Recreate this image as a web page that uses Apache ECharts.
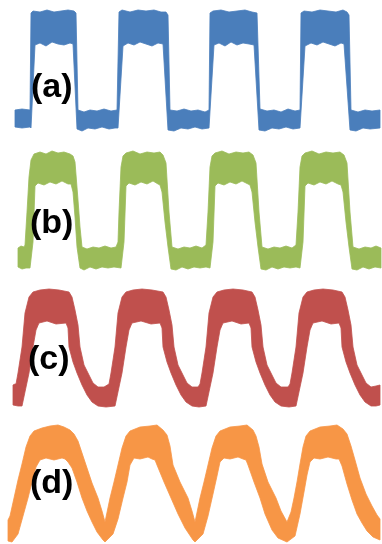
<!DOCTYPE html>
<html>
<head>
<meta charset="utf-8">
<script src="https://cdn.jsdelivr.net/npm/echarts@6/dist/echarts.min.js"></script>
<style>
html,body{margin:0;padding:0;background:#fff;}
#chart{width:382px;height:544px;}
</style>
</head>
<body>
<div id="chart"></div>
<script>
// Panel labels
const labels = ['(a)', '(b)', '(c)', '(d)'];
const colors = ['#4A7EBB', '#9BBB59', '#C0504D', '#F79646'];

// Envelope data: [time (a.u.), amplitude (a.u.)]
const aUpper = [[15,24],[22,25],[30,24],[31,121],[33,123],[40,122],[47,124],[54,122],[61,123],[68,124],[74,123],[76,121],[78,24],[84,22],[90,24],[97,23],[104,25],[111,23],[117,24],[119,122],[122,124],[130,122],[138,124],[146,123],[154,124],[161,122],[166,122],[168,119],[170,24],[177,23],[184,25],[191,23],[198,24],[205,22],[209,24],[210,121],[213,123],[221,124],[229,122],[237,123],[245,124],[252,122],[257,121],[260,25],[267,23],[274,24],[281,22],[288,25],[295,23],[300,24],[301,121],[304,123],[312,122],[320,124],[328,123],[336,122],[343,124],[347,122],[349,119],[351,24],[358,22],[365,24],[372,23],[380,24]];
const aLower = [[15,7],[22,6],[30,7],[31,6],[35,89],[40,91],[46,88],[52,92],[58,90],[64,89],[70,91],[73,90],[77,5],[82,3],[88,6],[95,5],[102,7],[109,5],[115,6],[118,6],[123,88],[128,91],[134,89],[140,92],[146,90],[152,88],[158,91],[163,90],[168,4],[174,3],[181,6],[188,5],[195,7],[202,5],[209,6],[214,89],[219,91],[225,88],[231,92],[237,89],[243,91],[249,90],[254,89],[259,4],[265,3],[272,6],[279,5],[286,7],[293,5],[300,6],[305,88],[311,91],[317,89],[323,92],[329,90],[335,88],[341,91],[344,90],[350,4],[356,3],[363,6],[370,5],[380,6]];

const bUpper = [[18,24],[21,26],[24,25],[25,27],[27,60],[29,95],[31,112],[34,118],[40,120],[46,118],[52,121],[58,119],[64,120],[70,118],[73,116],[75,110],[78,72],[80,45],[82,25],[87,23],[93,25],[99,24],[105,26],[111,24],[116,25],[118,30],[119,60],[121,105],[123,116],[126,119],[133,121],[140,118],[147,120],[154,119],[160,120],[163,117],[166,109],[169,60],[172,25],[178,23],[184,25],[190,24],[196,26],[202,24],[206,27],[208,60],[210,105],[212,116],[215,119],[222,121],[229,118],[236,120],[243,119],[249,120],[253,117],[256,109],[259,60],[262,25],[268,23],[274,25],[280,24],[286,26],[292,24],[296,27],[298,60],[300,105],[302,116],[305,119],[312,121],[319,118],[326,120],[333,119],[340,120],[344,117],[347,109],[350,60],[353,25],[359,23],[365,25],[371,24],[376,26],[381,24]];
const bLower = [[18,5],[22,3],[26,4],[30,4],[33,30],[35,86],[38,89],[44,87],[50,90],[56,88],[62,91],[68,88],[71,88],[73,80],[75,55],[77,25],[80,4],[84,2],[90,5],[96,3],[102,5],[108,4],[114,5],[121,4],[124,30],[126,86],[129,89],[135,87],[141,90],[147,88],[153,91],[158,88],[160,87],[162,80],[165,50],[168,25],[171,3],[176,2],[182,5],[188,3],[194,5],[200,4],[206,5],[210,4],[213,30],[215,86],[218,89],[224,87],[230,90],[236,88],[242,91],[248,88],[250,87],[252,80],[255,50],[258,25],[261,3],[266,2],[272,5],[278,3],[284,5],[290,4],[296,5],[300,4],[303,30],[305,86],[308,89],[314,87],[320,90],[326,88],[332,91],[338,88],[341,87],[343,80],[346,50],[349,25],[352,3],[357,2],[363,5],[369,3],[375,5],[381,4]];

const cUpper = [[13,25],[15,26],[16,26],[18,37],[22,63],[25,97],[29,113],[33,118],[40,120],[49,121],[59,120],[69,118],[72,113],[75,100],[78,85],[80,63],[84,45],[88,37],[93,27],[98,23],[104,23],[109,26],[111,37],[115,63],[118,97],[122,113],[126,118],[133,120],[142,121],[152,120],[163,118],[166,113],[169,100],[172,85],[174,63],[178,45],[182,37],[187,27],[192,23],[198,23],[200,26],[202,37],[206,63],[209,97],[213,113],[217,118],[224,120],[233,121],[243,120],[252,118],[255,113],[258,100],[261,85],[263,63],[267,45],[271,37],[276,27],[281,23],[288,23],[290,26],[292,37],[296,63],[299,97],[303,113],[307,118],[314,120],[323,121],[333,120],[342,118],[345,113],[348,100],[351,85],[353,63],[357,45],[361,37],[366,27],[371,23],[376,24],[380,25]];
const cLower = [[13,5],[18,4],[22,4],[29,37],[33,63],[36,80],[39,87],[47,89],[56,86],[66,87],[68,82],[69,63],[73,48],[77,37],[82,25],[87,15],[92,8],[98,4],[106,3],[115,4],[122,37],[126,63],[129,80],[132,87],[141,89],[151,86],[160,87],[162,82],[163,63],[167,48],[171,37],[176,25],[181,15],[186,8],[192,4],[199,3],[206,4],[213,37],[217,63],[220,80],[223,87],[232,89],[241,86],[249,87],[251,82],[252,63],[256,48],[260,37],[265,25],[270,15],[275,8],[281,4],[289,3],[296,4],[303,37],[307,63],[310,80],[313,87],[322,89],[331,86],[339,87],[341,82],[342,63],[346,48],[350,37],[355,25],[360,15],[365,8],[371,4],[376,4],[380,5]];

const dUpper = [[8,24],[10,28],[14,46],[18,64],[22,80],[26,97],[30,108],[34,113],[42,116],[50,118],[58,119],[64,117],[70,114],[74,110],[78,103],[82,91],[86,79],[92,61],[98,46],[102,33],[105,22],[110,46],[114,62],[118,79],[122,96],[126,108],[130,113],[140,117],[150,118],[157,119],[163,114],[167,109],[170,98],[173,79],[180,62],[188,46],[192,33],[195,22],[200,46],[204,62],[208,79],[212,96],[216,108],[220,113],[230,117],[240,118],[247,119],[253,114],[256,108],[259,97],[262,80],[268,62],[276,46],[281,33],[287,22],[291,32],[294,46],[297,62],[300,80],[303,97],[306,108],[310,113],[320,117],[330,118],[337,119],[343,115],[347,110],[351,98],[355,84],[360,66],[366,50],[372,38],[377,29],[380,25]];
const dLower = [[8,3],[12,2],[18,10],[23,28],[28,46],[32,62],[36,77],[40,84],[46,86],[54,84],[62,86],[65,85],[68,82],[72,76],[77,62],[82,46],[87,33],[92,22],[97,12],[103,4],[105,2],[113,10],[118,25],[123,46],[127,62],[130,79],[134,86],[140,85],[148,87],[152,85],[155,84],[157,79],[164,62],[171,46],[178,30],[185,16],[193,4],[195,2],[203,10],[208,28],[213,50],[217,68],[220,82],[224,86],[230,85],[238,87],[243,85],[246,84],[248,79],[254,62],[260,46],[265,30],[272,14],[278,6],[287,2],[295,8],[300,30],[304,52],[307,69],[310,82],[314,86],[320,85],[328,87],[336,85],[339,85],[342,78],[347,60],[352,44],[357,30],[362,21],[367,13],[373,7],[380,4]];

const uppers = [aUpper, bUpper, cUpper, dUpper];
const lowers = [aLower, bLower, cLower, dLower];

const panelTops = [8, 146, 284, 418];
const panelH = 126;
const labelPos = [[31, 90], [30, 226], [28, 362], [30, 486]];

const chart = echarts.init(document.getElementById('chart'), null, {renderer: 'canvas'});

function makeRender(upper, lower, color) {
  return function (params, api) {
    const pts = upper.map(p => api.coord(p)).concat(lower.slice().reverse().map(p => api.coord(p)));
    return {
      type: 'polygon',
      shape: {points: pts},
      style: {fill: color, stroke: color, lineWidth: 0.8, lineJoin: 'round'}
    };
  };
}

const grid = [], xAxis = [], yAxis = [], series = [], graphic = [];
for (let i = 0; i < 4; i++) {
  grid.push({left: 0, right: 0, top: panelTops[i], height: panelH, containLabel: false});
  xAxis.push({type: 'value', gridIndex: i, min: 0, max: 382, show: false});
  yAxis.push({type: 'value', gridIndex: i, min: 0, max: panelH, show: false});
  series.push({
    type: 'custom',
    xAxisIndex: i,
    yAxisIndex: i,
    coordinateSystem: 'cartesian2d',
    data: [[0, 0]],
    clip: false,
    silent: true,
    renderItem: makeRender(uppers[i], lowers[i], colors[i])
  });
  graphic.push({
    type: 'text',
    left: labelPos[i][0],
    top: labelPos[i][1] - 19,
    z: 100,
    style: {
      text: labels[i],
      fill: '#000',
      font: 'bold 34px "Liberation Sans", Arial, sans-serif'
    }
  });
}

chart.setOption({
  backgroundColor: '#ffffff',
  animation: false,
  grid, xAxis, yAxis, series, graphic
});
</script>
</body>
</html>
